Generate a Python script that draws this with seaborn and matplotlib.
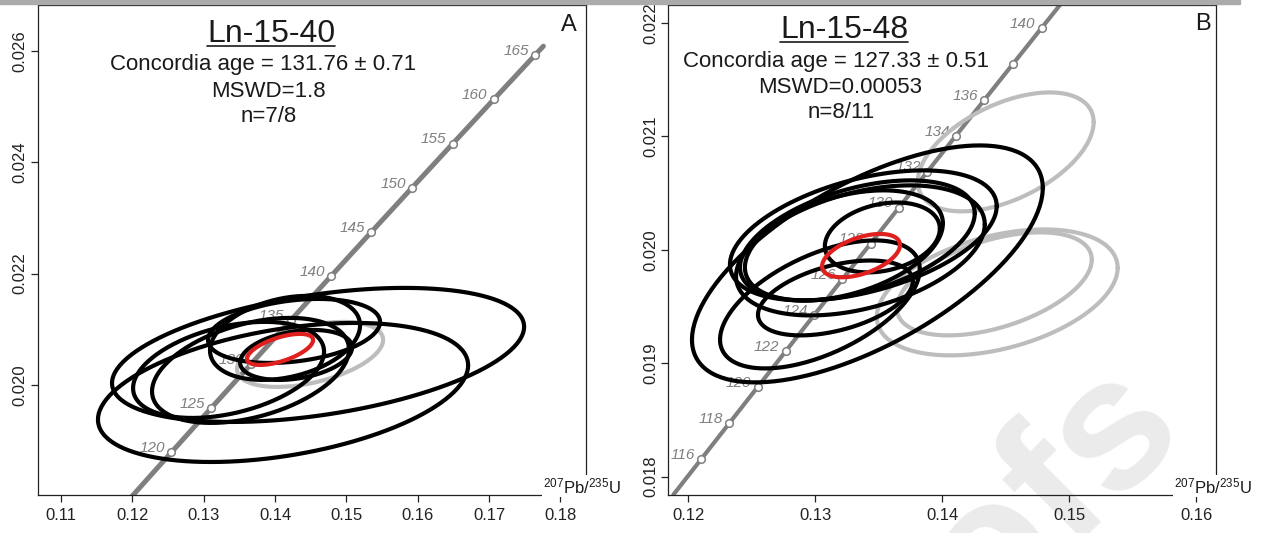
import numpy as np
import matplotlib.pyplot as plt
from matplotlib.lines import Line2D
from matplotlib.patches import Rectangle
from matplotlib.ticker import FormatStrFormatter
import seaborn as sns

W, H = 1264, 533

# ---- panel A: Ln-15-40 (concordia marks, 207Pb/235U vs 206Pb/238U) ----
conc_a_x = [0.11992, 0.12545, 0.13100, 0.13659, 0.14220, 0.14784, 0.15350,
            0.15920, 0.16492, 0.17067, 0.17645, 0.17761]
conc_a_y = [0.017999, 0.018789, 0.019580, 0.020371, 0.021163, 0.021955,
            0.022748, 0.023542, 0.024336, 0.025131, 0.025926, 0.026085]
conc_a_lab = ["", "120", "125", "130", "135", "140", "145", "150", "155",
              "160", "165", ""]
conc_a_mark = [False, True, True, True, True, True, True, True, True, True,
               True, False]

# error ellipses: centre, half extents, correlation
ell_a_x = [0.14602, 0.14111, 0.13347, 0.13655, 0.14265, 0.14139, 0.14294, 0.14490]
ell_a_y = [0.020539, 0.019865, 0.020270, 0.020261, 0.020970, 0.020845, 0.020539, 0.020548]
ell_a_sx = [0.02889, 0.02595, 0.01339, 0.01381, 0.01206, 0.01052, 0.00785, 0.01024]
ell_a_sy = [0.001204, 0.001249, 0.000863, 0.000943, 0.000575, 0.000755, 0.000449, 0.000584]
ell_a_rho = [0.42, 0.39, 0.38, 0.40, 0.28, 0.30, 0.30, 0.45]
ell_a_used = [True, True, True, True, True, True, True, False]
mean_a = (0.14069, 0.020638, 0.00463, 0.000279, 0.60)

# ---- panel B: Ln-15-48 ----
conc_b_x = [0.118819, 0.121024, 0.123234, 0.125448, 0.127668, 0.129891, 0.132119,
            0.134351, 0.136588, 0.138829, 0.141074, 0.143324, 0.145578, 0.147837,
            0.150100]
conc_b_y = [0.017842, 0.018157, 0.018473, 0.018789, 0.019106, 0.019422, 0.019738,
            0.020054, 0.020371, 0.020688, 0.021004, 0.021321, 0.021638, 0.021955,
            0.022272]
conc_b_lab = ["", "116", "118", "120", "122", "124", "126", "128", "130", "132",
              "134", "136", "", "140", ""]
conc_b_mark = [False, True, True, True, True, True, True, True, True, True, True,
               True, True, True, False]

ell_b_x = [0.13410, 0.13378, 0.13158, 0.13528, 0.13331, 0.13355, 0.13225, 0.13036,
           0.14500, 0.14433, 0.14410]
ell_b_y = [0.019875, 0.020126, 0.019575, 0.020108, 0.020082, 0.019994, 0.020038,
           0.019518, 0.020862, 0.019624, 0.019699]
ell_b_sx = [0.01382, 0.01051, 0.00610, 0.00453, 0.00925, 0.00980, 0.00780, 0.00787,
            0.00693, 0.00949, 0.00768]
ell_b_sy = [0.001044, 0.000573, 0.000330, 0.000308, 0.000529, 0.000573, 0.000485,
            0.000564, 0.000524, 0.000555, 0.000454]
ell_b_rho = [0.64, 0.45, 0.45, 0.25, 0.45, 0.40, 0.40, 0.55, 0.50, 0.39, 0.47]
ell_b_used = [True, True, True, True, True, True, True, True, False, False, False]
mean_b = (0.13360, 0.019948, 0.00307, 0.000191, 0.49)

sns.set_style("ticks")
plt.rcParams["font.family"] = ["Liberation Sans", "DejaVu Sans"]
plt.rcParams["mathtext.fontset"] = "custom"
plt.rcParams["mathtext.rm"] = "Liberation Sans"
plt.rcParams["mathtext.it"] = "Liberation Sans:italic"

GREY_LINE = "#7f7f7f"
GREY_ELL = "#bdbdbd"
RED = "#e0201f"
TXT = "#1a1a1a"


def ellipse(ax, cx, cy, sx, sy, rho, color, z):
    t = np.linspace(0, 2 * np.pi, 240)
    x = cx + sx * np.cos(t)
    y = cy + sy * (rho * np.cos(t) + np.sqrt(1 - rho ** 2) * np.sin(t))
    ax.plot(x, y, color=color, lw=3.0, zorder=z)


def panel(ax, cx, cy, lab, mark, ex, ey, esx, esy, erho, used, mean, lw_conc):
    sns.lineplot(x=cx, y=cy, ax=ax, color=GREY_LINE, lw=lw_conc, sort=False,
                 estimator=None, zorder=1)
    mx = [x for x, m in zip(cx, mark) if m]
    my = [y for y, m in zip(cy, mark) if m]
    sns.scatterplot(x=mx, y=my, ax=ax, s=30, color="white", edgecolor=GREY_LINE,
                    linewidth=1.1, zorder=2)
    for x, y, s in zip(cx, cy, lab):
        if s:
            ax.annotate(s, (x, y), xytext=(-4.5, 3), textcoords="offset points",
                        ha="right", va="center", fontsize=11, style="italic",
                        color=GREY_LINE, zorder=2)
    for i in range(len(ex)):
        if not used[i]:
            ellipse(ax, ex[i], ey[i], esx[i], esy[i], erho[i], GREY_ELL, 3)
    for i in range(len(ex)):
        if used[i]:
            ellipse(ax, ex[i], ey[i], esx[i], esy[i], erho[i], "black", 4)
    ellipse(ax, *mean, RED, 5)
    for sp in ax.spines.values():
        sp.set_linewidth(0.9)
        sp.set_color("#222222")
    ax.tick_params(length=5, width=0.9, labelsize=12, colors="#222222", pad=4)
    ax.tick_params(axis="y", labelrotation=90, pad=2)
    for t in ax.get_yticklabels():
        t.set_va("center")


fig = plt.figure(figsize=(W / 100, H / 100), dpi=100)
fig.patches.append(Rectangle((0, 1 - 4 / H), 1240 / W, 4 / H, transform=fig.transFigure,
                             color="#ababab", zorder=0))

# faint watermark behind everything
fig.text(765 / W, 1 - 845 / H, "Proofs", rotation=45, rotation_mode="anchor",
         ha="left", va="baseline", fontsize=135, fontweight="bold",
         color="#ebebeb", zorder=-5)

ax_a = fig.add_axes([37.5 / W, 1 - 495 / H, (586 - 37.5) / W, (495 - 4.7) / H])
ax_b = fig.add_axes([668 / W, 1 - 495.3 / H, (1216 - 668) / W, (495.3 - 4.7) / H])
for ax in (ax_a, ax_b):
    ax.patch.set_alpha(0)

ax_a.set_xlim(0.10668, 0.18359)
ax_a.set_ylim(0.018023, 0.02683)
ax_a.set_xticks([0.11, 0.12, 0.13, 0.14, 0.15, 0.16, 0.17, 0.18])
ax_a.set_yticks([0.020, 0.022, 0.024, 0.026])
ax_a.xaxis.set_major_formatter(FormatStrFormatter("%.2f"))
ax_a.yaxis.set_major_formatter(FormatStrFormatter("%.3f"))
panel(ax_a, conc_a_x, conc_a_y, conc_a_lab, conc_a_mark, ell_a_x, ell_a_y,
      ell_a_sx, ell_a_sy, ell_a_rho, ell_a_used, mean_a, 3.6)

ax_b.set_xlim(0.11839, 0.16157)
ax_b.set_ylim(0.017836, 0.022159)
ax_b.set_xticks([0.12, 0.13, 0.14, 0.15, 0.16])
ax_b.set_yticks([0.018, 0.019, 0.020, 0.021, 0.022])
ax_b.xaxis.set_major_formatter(FormatStrFormatter("%.2f"))
ax_b.yaxis.set_major_formatter(FormatStrFormatter("%.3f"))
panel(ax_b, conc_b_x, conc_b_y, conc_b_lab, conc_b_mark, ell_b_x, ell_b_y,
      ell_b_sx, ell_b_sy, ell_b_rho, ell_b_used, mean_b, 3.0)


def ftext(x, y, s, **kw):
    return fig.text(x / W, 1 - y / H, s, color=TXT, **kw)


titles = []
titles.append(ftext(271, 42, "Ln-15-40", fontsize=23, ha="center", va="baseline"))
ftext(263, 70, "Concordia age = 131.76 ± 0.71", fontsize=16, ha="center", va="baseline")
ftext(268, 97, "MSWD=1.8", fontsize=16, ha="center", va="baseline")
ftext(269, 122, "n=7/8", fontsize=16, ha="center", va="baseline")
ftext(569, 31, "A", fontsize=17, ha="center", va="baseline")

titles.append(ftext(844, 38, "Ln-15-48", fontsize=23, ha="center", va="baseline"))
ftext(836, 67, "Concordia age = 127.33 ± 0.51", fontsize=16, ha="center", va="baseline")
ftext(840, 93, "MSWD=0.00053", fontsize=16, ha="center", va="baseline")
ftext(841, 118, "n=8/11", fontsize=16, ha="center", va="baseline")
ftext(1203, 30, "B", fontsize=17, ha="center", va="baseline")

for xc in (582, 1213):
    ftext(xc, 486, r"$^{207}$Pb/$^{235}$U", fontsize=12, ha="center", va="center",
          bbox=dict(facecolor="white", edgecolor="none", pad=1.0), zorder=10)

# underline the sample names
fig.canvas.draw()
for t in titles:
    bb = t.get_window_extent()
    yy = (bb.y0 + 3) / H
    fig.add_artist(Line2D([bb.x0 / W, bb.x1 / W], [yy, yy], color=TXT, lw=1.2,
                          transform=fig.transFigure))

fig.savefig("out.png", dpi=100)
